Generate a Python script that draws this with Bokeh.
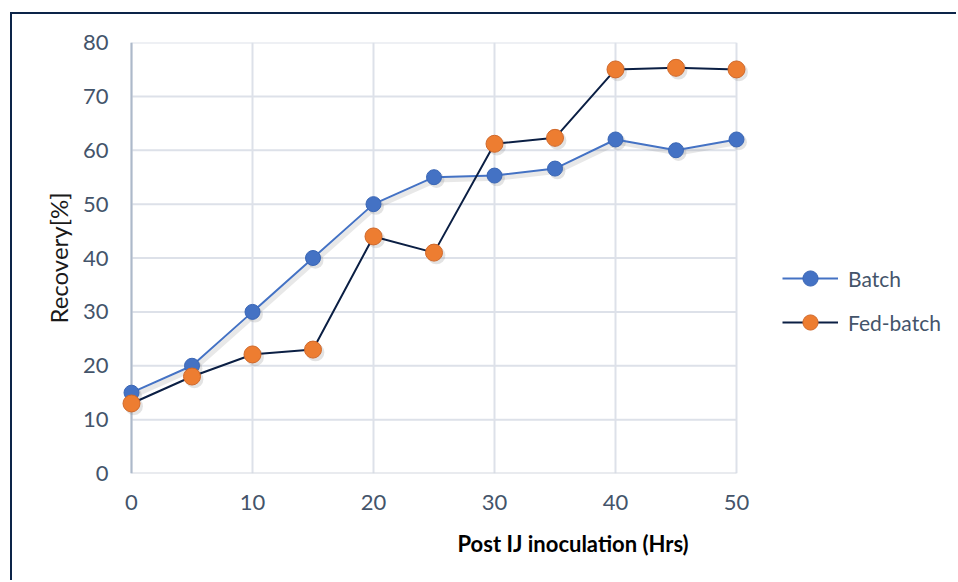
from bokeh.plotting import figure
from bokeh.models import Range1d, FixedTicker, Legend, LegendItem, Title
from bokeh.embed import file_html
from bokeh.resources import INLINE

hours = [0, 5, 10, 15, 20, 25, 30, 35, 40, 45, 50]
batch = [15, 20, 30, 40, 50, 55, 55.3, 56.6, 62, 60, 62]
fed_batch = [13, 18, 22.1, 23, 44, 41, 61.2, 62.3, 75, 75.3, 75]
x_ticks = [0, 10, 20, 30, 40, 50]
y_ticks = [0, 10, 20, 30, 40, 50, 60, 70, 80]

FONT = "Lato"
TICK_COLOR = "#44546a"

PX_PER_UNIT = 12.1
pad = 10 / PX_PER_UNIT
CANVAS_W, CANVAS_H = 946, 568
LEFT, TOP, BOTTOM = 109, 28, 109
x_end = -pad + (CANVAS_W - LEFT) / PX_PER_UNIT

p = figure(width=CANVAS_W, height=CANVAS_H,
           x_range=Range1d(-pad, x_end), y_range=Range1d(0, 80),
           output_backend="svg", toolbar_location=None,
           min_border_left=LEFT, min_border_right=0,
           min_border_top=TOP, min_border_bottom=BOTTOM)
p.styles = {"margin-left": "10px", "margin-top": "12px",
            "border-top": "2px solid #0c2448", "border-left": "2px solid #0c2448"}
p.outline_line_color = None
p.background_fill_color = "white"

# grid
p.xgrid.ticker = FixedTicker(ticks=x_ticks)
p.xgrid.grid_line_color = "#dde1e9"
p.xgrid.grid_line_width = 2
p.ygrid.visible = False
xmin, xmax = min(x_ticks), max(x_ticks)
p.segment(x0=[xmin] * (len(y_ticks) - 1), x1=[xmax] * (len(y_ticks) - 1),
          y0=y_ticks[1:], y1=y_ticks[1:], line_color="#dde1e9", line_width=2)
p.segment(x0=[xmin], x1=[xmax], y0=[y_ticks[0]], y1=[y_ticks[0]],
          line_color="#d3d8e0", line_width=2)
p.segment(x0=[xmin], x1=[xmin], y0=[y_ticks[0]], y1=[y_ticks[-1]],
          line_color="#adb9ca", line_width=2)

# axes
for ax in (p.xaxis, p.yaxis):
    ax.axis_line_color = None
    ax.major_tick_line_color = None
    ax.minor_tick_line_color = None
    ax.major_tick_out = 0
    ax.major_tick_in = 0
    ax.major_label_text_font = FONT
    ax.major_label_text_font_size = "22px"
    ax.major_label_text_color = TICK_COLOR
p.xaxis.ticker = FixedTicker(ticks=x_ticks)
p.yaxis.ticker = FixedTicker(ticks=y_ticks)
p.xaxis.major_label_standoff = 21
p.yaxis.major_label_standoff = 13
p.yaxis.axis_label = "Recovery[%]"
p.yaxis.axis_label_text_font = FONT
p.yaxis.axis_label_text_font_size = "24px"
p.yaxis.axis_label_text_font_style = "normal"
p.yaxis.axis_label_text_color = "#1a1a1a"
p.yaxis.axis_label_standoff = 7

p.add_layout(Title(text="Post IJ inoculation (Hrs)", align="left", offset=336,
                   standoff=31,
                   text_font=FONT, text_font_size="22px", text_font_style="bold",
                   text_color="#000000"), "below")

# shadows (offset derived from the data)
dx, dy = 0.2, -0.5
sx = [h + dx for h in hours]
p.line(sx, [b + dy for b in batch], line_color="#808080", line_alpha=0.18, line_width=5)
p.scatter(sx, [b + dy for b in batch], size=16, fill_color="#808080", fill_alpha=0.22, line_color=None)
p.scatter(sx, [f + dy for f in fed_batch], size=18, fill_color="#808080", fill_alpha=0.22, line_color=None)

# series
bl = p.line(hours, batch, line_color="#4472c4", line_width=2)
bs = p.scatter(hours, batch, size=15, fill_color="#4472c4", line_color="#3a66b5", line_width=1)
fl = p.line(hours, fed_batch, line_color="#0b1f44", line_width=2)
fs = p.scatter(hours, fed_batch, size=17, fill_color="#ed7d31", line_color="#d0682a", line_width=1)

legend = Legend(items=[LegendItem(label="Batch", renderers=[bl, bs]),
                       LegendItem(label="Fed-batch", renderers=[fl, fs])],
                location=(661, 132))
legend.label_text_font = FONT
legend.label_text_font_size = "21px"
legend.label_text_color = TICK_COLOR
legend.glyph_width = 56
legend.glyph_height = 38
legend.label_height = 38
legend.label_standoff = 10
legend.spacing = 6
legend.padding = 0
legend.margin = 0
legend.border_line_color = None
legend.background_fill_alpha = 0
p.add_layout(legend, "center")

open("out.html", "w").write(file_html(p, INLINE))
